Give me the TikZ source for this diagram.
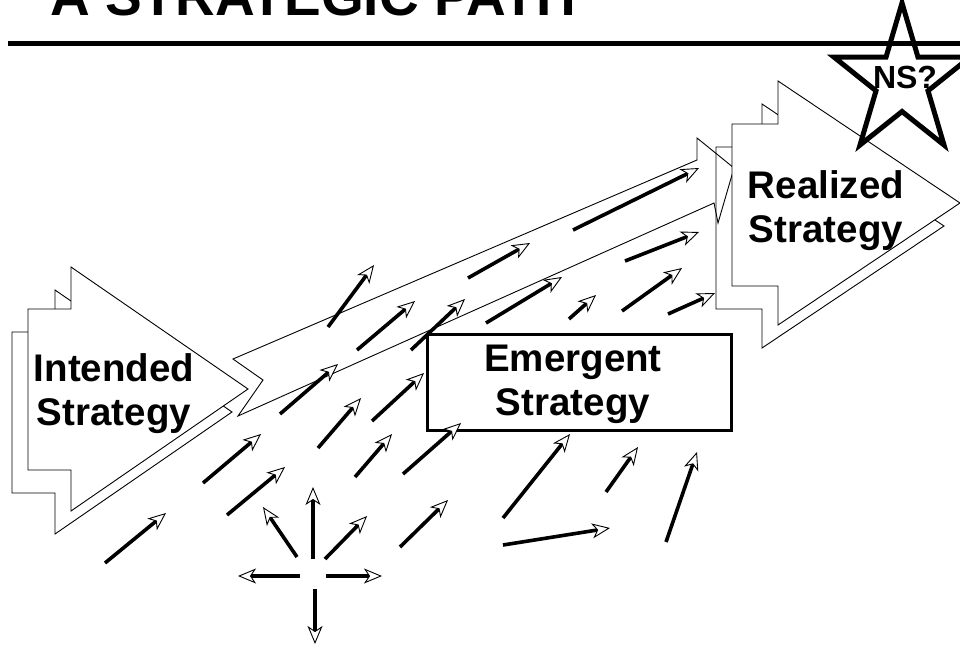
\documentclass[tikz,border=0pt]{standalone}
\usepackage{fontspec}
\setmainfont{Liberation Sans}
\usetikzlibrary{arrows.meta}
\begin{document}
\begin{tikzpicture}[x=1pt,y=-1pt,
  shapeline/.style={draw=black, line width=0.9pt, fill=white, line join=miter},
  bandline/.style={draw=black, line width=0.9pt, line join=miter},
  flow/.style={line width=3.6pt, -{Stealth[open, fill=white, length=18pt, width=15pt, inset=5pt, line width=0.9pt]}},
  lbl/.style={font=\fontsize{38.5}{44}\selectfont\bfseries, align=center, inner sep=0pt, anchor=north},
]
\useasboundingbox (0,0) rectangle (960,646);

% title and rule
\node[font=\fontsize{55}{60}\selectfont\bfseries, anchor=base west, inner sep=0pt] (title) at (50,15) {A STRATEGIC PATH};
\coordinate (ruleL) at (8,43);
\coordinate (ruleR) at (960,43);
\draw[line width=5pt] (ruleL) -- (ruleR);

% intended strategy stack
\draw[shapeline] (12,332) -- (55,332) -- (55,290) -- (232,412) -- (55,534) -- (55,493) -- (12,493) -- cycle;
\draw[shapeline] (28,309) -- (71,309) -- (71,267) -- (248,389) -- (71,511) -- (71,470) -- (28,470) -- cycle;

% realized strategy back copy
\draw[shapeline] (716,147) -- (762,147) -- (762,104) -- (944,226) -- (762,348) -- (762,309) -- (716,309) -- cycle;

% long band
\draw[bandline] (233,359) -- (263,380) -- (238,416) -- (714,203) -- (718,223) -- (734,168) -- (697,138) -- (697,160) -- cycle;

% realized strategy front
\draw[shapeline] (732,124) -- (778,124) -- (778,81) -- (960,203) -- (778,325) -- (778,286) -- (732,286) -- cycle;

% emergent box
\draw[line width=3pt, fill=white] (427,334) rectangle (731,430);

% labels
\node[lbl] (intended) at (114,353) {Intended\\Strategy};
\node[lbl] (emergent) at (573,345) {Emergent\\Strategy};
\node[lbl] (realized) at (826,170) {Realized\\Strategy};

% small arrows
\foreach \i/\sx/\sy/\ex/\ey in {
  1/105/563/166/513, 2/203/483/261/434, 3/227/515/285/467, 4/280/414/338/364,
  5/318/448/361/398, 6/355/477/392/434, 7/372/421/424/373, 8/403/474/461/423,
  9/328/327/374/265, 10/357/350/415/301, 11/411/350/465/299, 12/468/278/530/243,
  13/573/230/699/168, 14/486/323/562/277, 15/625/261/699/232, 16/569/319/596/295,
  17/622/311/682/268, 18/668/314/715/293, 19/400/547/448/500, 20/503/518/570/434,
  21/606/492/638/447, 22/503/545/610/528, 23/666/542/697/452,
  24/297/557/263/507, 25/313/559/313/487, 26/325/559/367/516,
  27/300/576/238/576, 28/326/576/382/576, 29/315/589/315/644} {
  \coordinate (s\i) at (\sx,\sy);
  \coordinate (e\i) at (\ex,\ey);
  \draw[flow] (s\i) -- (e\i);
}

% star
\node[font=\fontsize{32}{34}\selectfont\bfseries, inner sep=0pt, anchor=north] (ns) at (905,66) {NS?};
\draw[line width=5pt, line join=miter, miter limit=10] (902,3) -- (918,57.2) -- (969.9,57.2) -- (928,90.8) -- (944,145) -- (902,111.5) -- (860,145) -- (876,90.8) -- (834.1,57.2) -- (886,57.2) -- cycle;
\end{tikzpicture}
\end{document}
